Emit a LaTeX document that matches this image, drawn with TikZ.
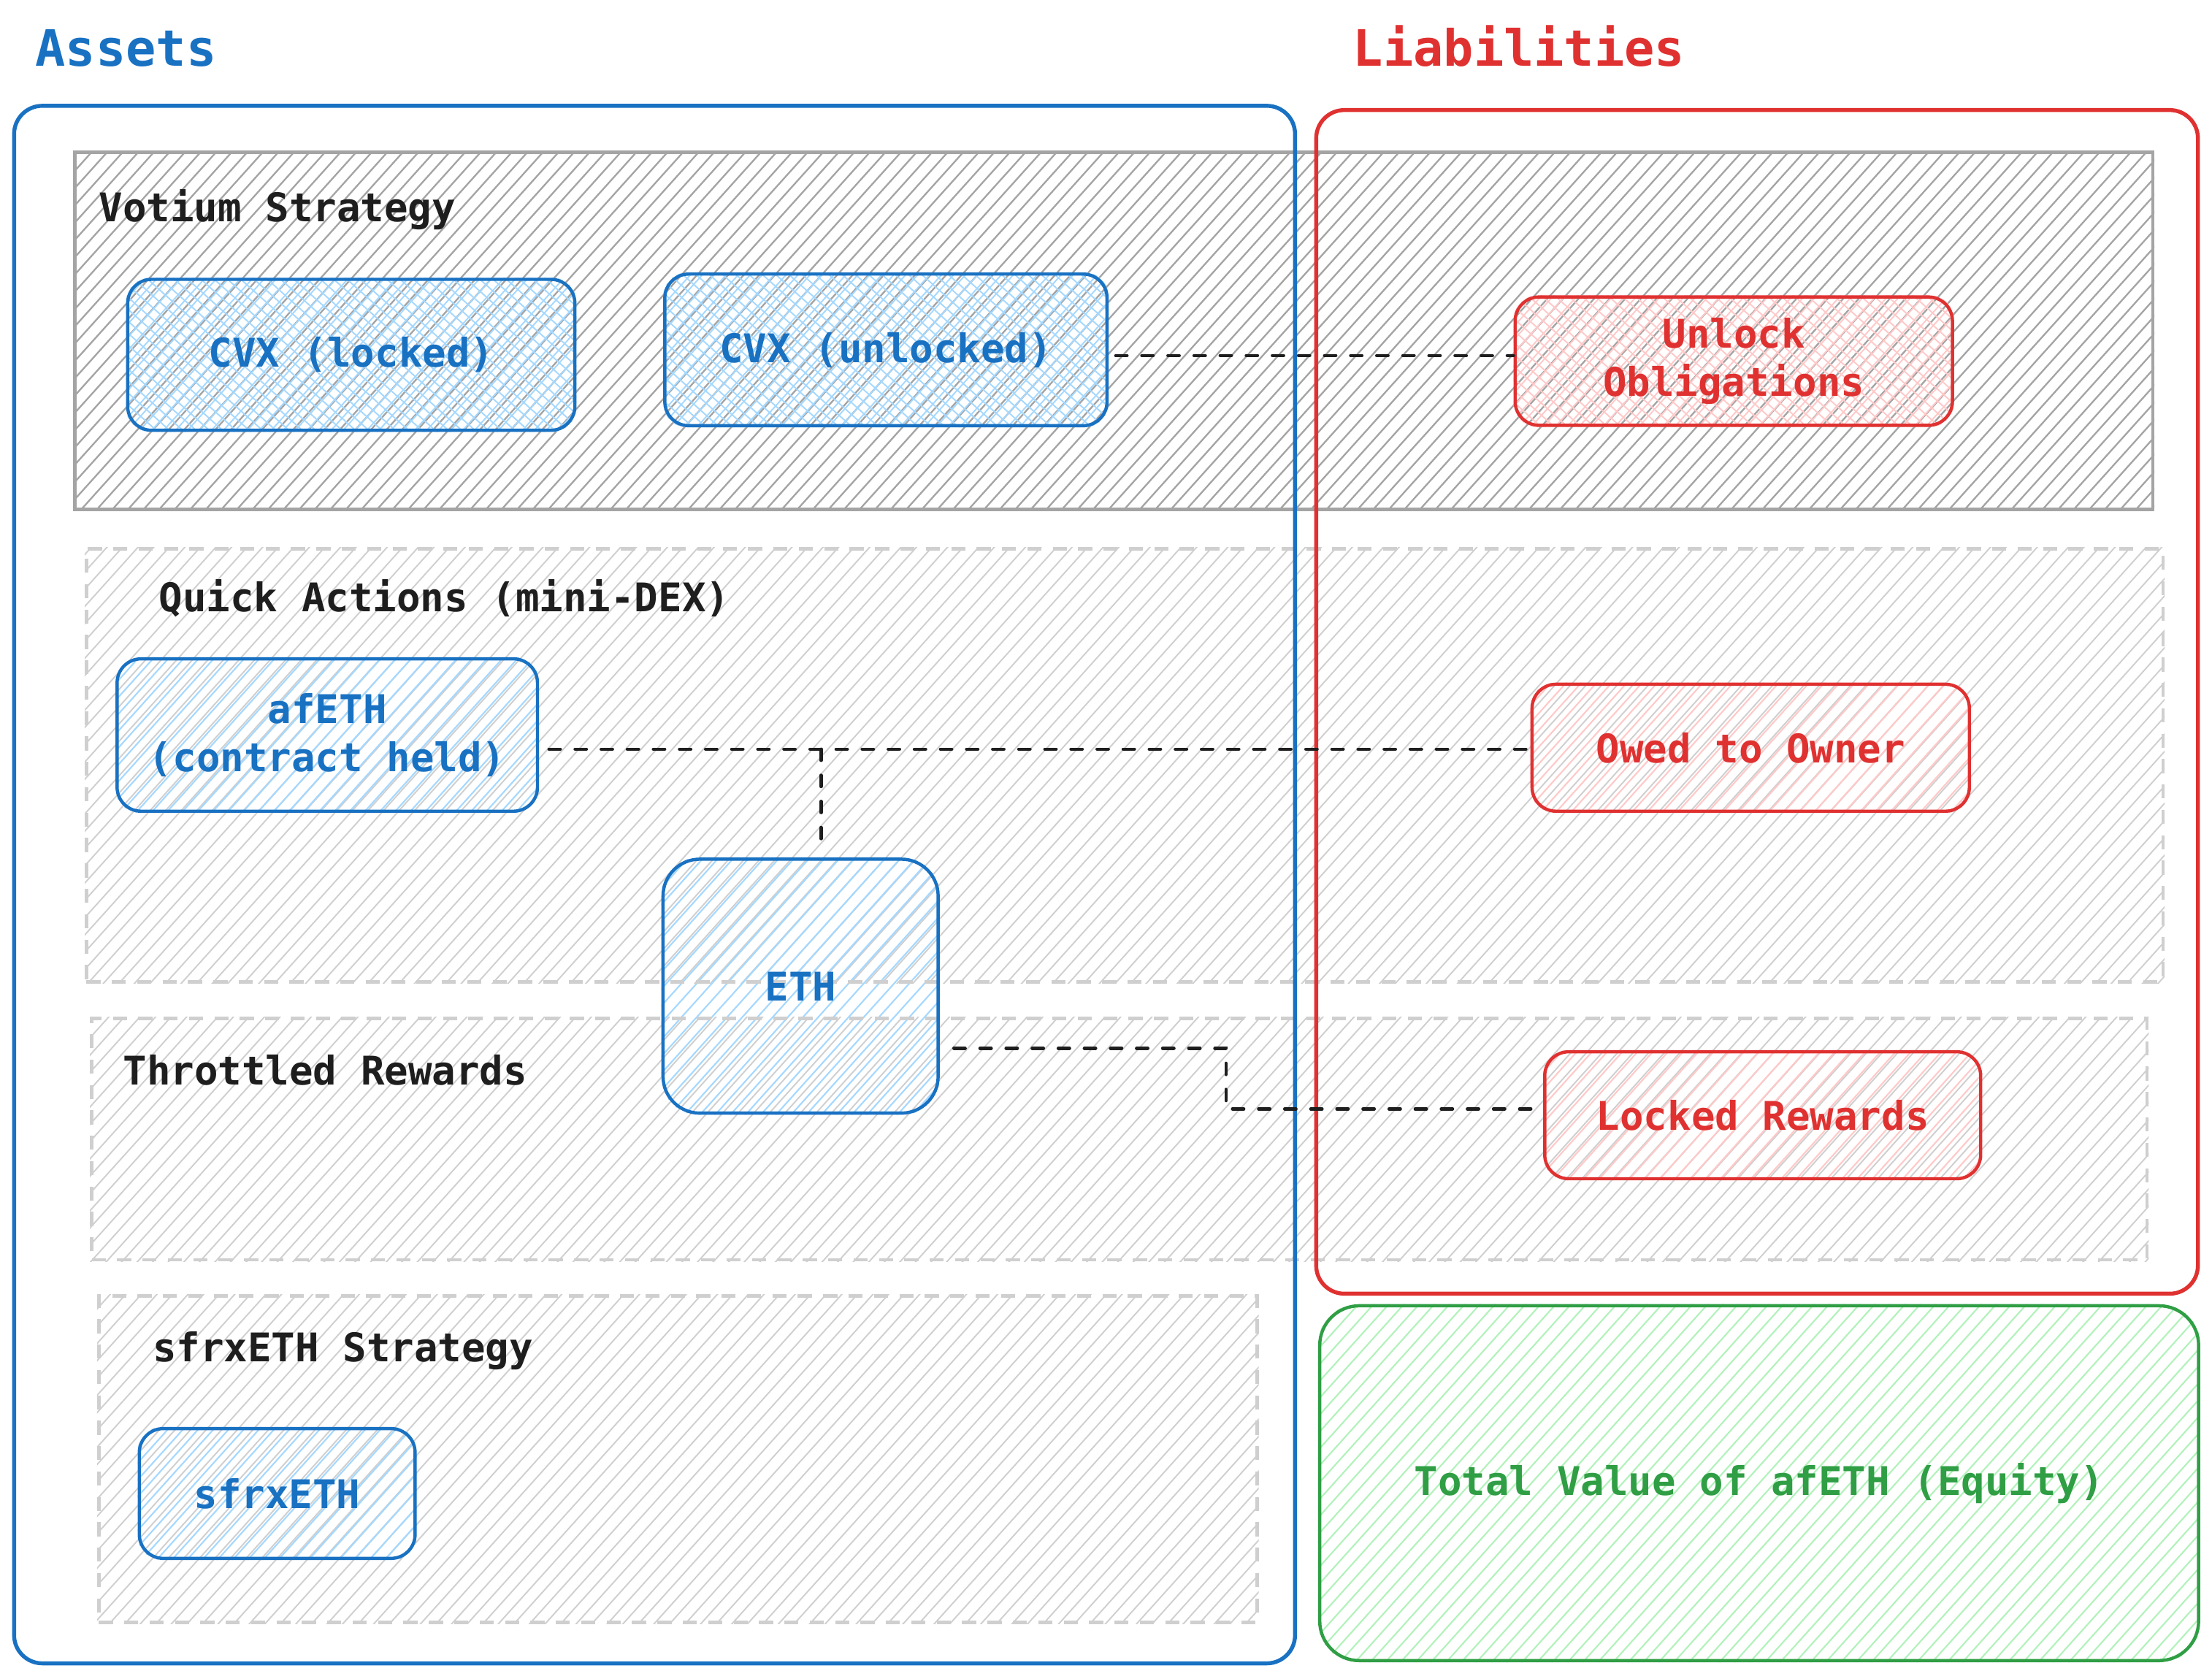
\documentclass[tikz,border=0pt]{standalone}
\usepackage{fontspec}
\setmonofont{DejaVu Sans Mono}
\usetikzlibrary{backgrounds}
\definecolor{eblue}{HTML}{1971C2}
\definecolor{lblue}{HTML}{A5D8FF}
\definecolor{ered}{HTML}{E03131}
\definecolor{lred}{HTML}{FFC9C9}
\definecolor{egreen}{HTML}{2F9E44}
\definecolor{lgreen}{HTML}{B2F2BB}
\definecolor{ink}{HTML}{1E1E1E}
\definecolor{dgray}{HTML}{A4A4A4}
\definecolor{lgray}{HTML}{CFCFCF}
\newcommand{\boxfont}{\ttfamily\bfseries\fontsize{28}{34}\selectfont}
\newcommand{\titlefont}{\ttfamily\bfseries\fontsize{35.5}{40}\selectfont}
% hatch a named node: node, corner radius, colour, width, distance (pt), angle
\newcommand{\hatchnode}[6]{%
  \begin{pgfonlayer}{background}
  \begin{scope}
    \clip[rounded corners=#2] (#1.south west) rectangle (#1.north east);
    \pgfpointdiff{\pgfpointanchor{#1}{south west}}{\pgfpointanchor{#1}{north east}}%
    \pgfgetlastxy{\hatchdx}{\hatchdy}%
    \pgfmathsetmacro\hatchR{0.5*veclen(\hatchdx,\hatchdy)+2}%
    \pgfmathtruncatemacro\hatchN{\hatchR/#5+1}%
    \begin{scope}[shift={(#1.center)},x=1pt,y=1pt,rotate=#6]
      \foreach \k in {-\hatchN,...,\hatchN}{\draw[draw=#3,line width=#4] (-\hatchR,\k*#5) -- (\hatchR,\k*#5);}
    \end{scope}
  \end{scope}
  \end{pgfonlayer}}
\newcommand{\hatchitem}[3]{\hatchnode{#1}{#2}{#3}{1.1pt}{8}{48}}
\newcommand{\crossitem}[3]{\hatchnode{#1}{#2}{#3}{1pt}{6.3}{48}\hatchnode{#1}{#2}{#3}{1pt}{6.3}{-42}}
\tikzset{
  itembox/.style={draw=#1, line width=2.3pt, rounded corners=17pt, inner sep=0pt,
    text=#1, font=\boxfont, align=center},
  region/.style={draw=lgray, line width=2.4pt, dash pattern=on 10pt off 8pt, inner sep=0pt},
  solidregion/.style={draw=dgray, line width=2.4pt, inner sep=0pt},
  outer/.style={draw=#1, line width=2.8pt, rounded corners=20pt, inner sep=0pt},
  heading/.style={anchor=base west, inner sep=0pt, text=ink, font=\boxfont},
  title/.style={anchor=base west, inner sep=0pt, text=#1, font=\titlefont},
  conn/.style={draw=ink, line width=2.3pt, line cap=round, dash pattern=on 8pt off 10.5pt},
}
\begin{document}
\begin{tikzpicture}[x=1pt,y=-1pt]
\useasboundingbox (0,0) rectangle (1568,1190);
% regions
\node[solidregion, minimum width=1473pt, minimum height=253pt] (votium) at (789.5,234.5) {};
\hatchnode{votium}{0pt}{dgray}{1.2pt}{8.2}{48}
\node[region, minimum width=1472pt, minimum height=307pt] (quick) at (797.25,542.5) {};
\hatchnode{quick}{0pt}{lgray}{1pt}{8.2}{48}
\node[region, minimum width=1457pt, minimum height=171pt] (throttled) at (793.5,807.5) {};
\hatchnode{throttled}{0pt}{lgray}{1pt}{8.2}{48}
\node[region, minimum width=821pt, minimum height=231.5pt] (sfrxs) at (480.5,1034.25) {};
\hatchnode{sfrxs}{0pt}{lgray}{1pt}{8.2}{48}
% outer frames
\node[outer=eblue, minimum width=908pt, minimum height=1104pt] (assets) at (464,627) {};
\node[outer=ered, minimum width=625pt, minimum height=839pt] (liab) at (1245.5,497.5) {};
% titles
\node[title=eblue] (assetsT) at (25,47) {Assets};
\node[title=ered] (liabT) at (959,47) {Liabilities};
\node[heading] (votiumT) at (70,157) {Votium Strategy};
\node[heading] (quickT) at (112.5,433.6) {Quick Actions (mini-DEX)};
\node[heading] (throttledT) at (87,769) {Throttled Rewards};
\node[heading] (sfrxsT) at (108,965) {sfrxETH Strategy};
% items
\node[itembox=eblue, minimum width=317pt, minimum height=107pt] (cvxl) at (249,251.5) {CVX (locked)};
\crossitem{cvxl}{17pt}{lblue}
\node[itembox=eblue, minimum width=313.5pt, minimum height=107.5pt] (cvxu) at (628,248) {CVX (unlocked)};
\crossitem{cvxu}{17pt}{lblue}
\node[itembox=ered, minimum width=310pt, minimum height=91pt] (unlock) at (1229,256) {Unlock\\Obligations};
\crossitem{unlock}{17pt}{lred}
\node[itembox=eblue, minimum width=298pt, minimum height=108pt] (afeth) at (232,521) {afETH\\(contract held)};
\hatchitem{afeth}{17pt}{lblue}
\node[itembox=ered, minimum width=310pt, minimum height=90pt] (owed) at (1241,530) {Owed to Owner};
\hatchitem{owed}{17pt}{lred}
\node[itembox=eblue, rounded corners=26pt, minimum width=195pt, minimum height=180pt] (eth) at (567.5,699) {ETH};
\hatchitem{eth}{26pt}{lblue}
\node[itembox=ered, minimum width=309pt, minimum height=90pt] (locked) at (1249.5,790.5) {Locked Rewards};
\hatchitem{locked}{17pt}{lred}
\node[itembox=eblue, minimum width=195.5pt, minimum height=92pt] (sfrx) at (196.5,1058.6) {sfrxETH};
\hatchitem{sfrx}{17pt}{lblue}
\node[itembox=egreen, rounded corners=28pt, minimum width=623pt, minimum height=251.5pt] (equity) at (1247,1051.3) {Total Value of afETH (Equity)};
\hatchitem{equity}{28pt}{lgreen}
% connectors
\draw[conn] ([xshift=5pt]cvxu.east |- 0,252) -- (unlock.west |- 0,252);
\coordinate (j1) at (582,531);
\draw[conn] ([xshift=7pt]afeth.east |- j1) -- (j1) -- (owed.west |- j1);
\draw[conn] (j1) -- ([yshift=5pt]j1 |- eth.north);
\coordinate (j2) at (869,743);
\coordinate (j3) at (869,786);
\draw[conn] ([xshift=10pt]eth.east |- j2) -- (j2) -- (j3) -- (locked.west |- j3);
\end{tikzpicture}
\end{document}
